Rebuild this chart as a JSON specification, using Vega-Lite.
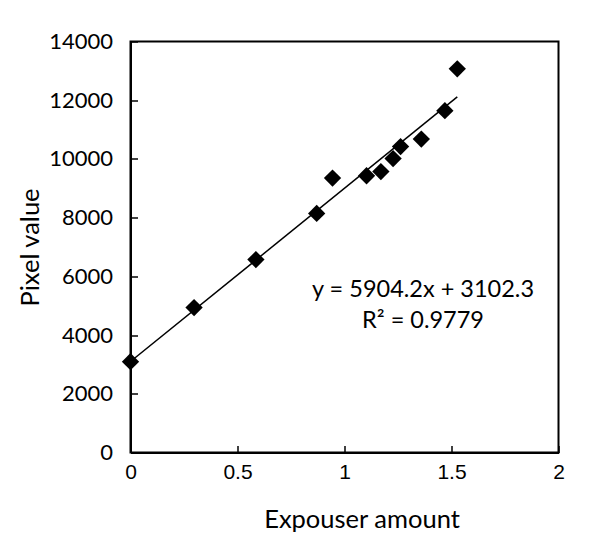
{
  "$schema": "https://vega.github.io/schema/vega-lite/v6.json",
  "width": 428,
  "height": 411,
  "autosize": {"type": "none"},
  "padding": {"left": 130.5, "top": 41.5, "right": 34.5, "bottom": 85.5},
  "background": "white",
  "config": {
    "view": {"stroke": "black", "strokeWidth": 2},
    "axis": {
      "grid": false,
      "domainColor": "black",
      "domainWidth": 2,
      "tickColor": "black",
      "tickWidth": 1.5,
      "tickSize": -7,
      "labelColor": "black",
      "titleColor": "black",
      "titleFontWeight": "normal",
      "titleFont": "Lato",
      "titleFontSize": 25.5
    }
  },
  "layer": [
    {
      "data": {"name": "points"},
      "transform": [{"regression": "pixel", "on": "exposure"}],
      "mark": {"type": "line", "color": "black", "strokeWidth": 1.5},
      "encoding": {
        "x": {"field": "exposure", "type": "quantitative"},
        "y": {"field": "pixel", "type": "quantitative"}
      }
    },
    {
      "data": {"name": "points"},
      "mark": {"type": "point", "shape": "diamond", "filled": true, "color": "black", "opacity": 1, "size": 300},
      "encoding": {
        "x": {
          "field": "exposure",
          "type": "quantitative",
          "title": "Expouser amount",
          "scale": {"domain": [0, 2], "nice": false, "zero": false},
          "axis": {
            "values": [0, 0.5, 1, 1.5, 2],
            "format": "~g",
            "labelFont": "Liberation Sans",
            "labelFontSize": 21,
            "labelPadding": 16,
            "labelFlush": false,
            "titleX": 231,
            "titleY": 75,
            "titleBaseline": "alphabetic",
            "titleAlign": "center",
            "titleAnchor": null
          }
        },
        "y": {
          "field": "pixel",
          "type": "quantitative",
          "title": "Pixel value",
          "scale": {"domain": [0, 14000], "nice": false},
          "axis": {
            "values": [0, 2000, 4000, 6000, 8000, 10000, 12000, 14000],
            "format": "d",
            "labelFont": "Lato",
            "labelFontSize": 22,
            "labelPadding": 25,
            "labelFlush": false,
            "titleX": -92.5,
            "titleY": 205.5,
            "titleAngle": -90,
            "titleBaseline": "alphabetic",
            "titleAlign": "center",
            "titleAnchor": null
          }
        }
      }
    },
    {
      "data": {"values": [{"label": "equation"}]},
      "mark": {"type": "text", "font": "Lato", "fontSize": 23.5, "fontWeight": "normal", "color": "black", "align": "center", "baseline": "middle", "lineHeight": 31},
      "encoding": {
        "x": {"datum": 1.367},
        "y": {"datum": 5550},
        "text": {"value": ["y = 5904.2x + 3102.3", "R² = 0.9779"]}
      }
    }
  ],
  "datasets": {
    "points": [
      {"exposure": 0.0, "pixel": 3095},
      {"exposure": 0.297, "pixel": 4936},
      {"exposure": 0.586, "pixel": 6570},
      {"exposure": 0.870, "pixel": 8145},
      {"exposure": 0.944, "pixel": 9347},
      {"exposure": 1.103, "pixel": 9428},
      {"exposure": 1.170, "pixel": 9568},
      {"exposure": 1.227, "pixel": 10012},
      {"exposure": 1.262, "pixel": 10420},
      {"exposure": 1.359, "pixel": 10677},
      {"exposure": 1.469, "pixel": 11645},
      {"exposure": 1.527, "pixel": 13069}
    ]
  }
}
